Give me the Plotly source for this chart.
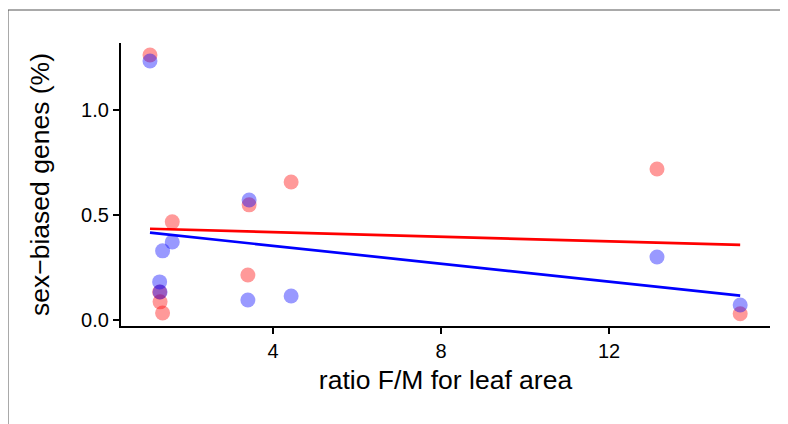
import numpy as np
import plotly.graph_objects as go

# data
ratio_fm = [1.07, 1.30, 1.31, 1.37, 1.60, 3.40, 3.43, 4.43, 13.14, 15.12]
pct_red = [1.262, 0.133, 0.086, 0.033, 0.467, 0.214, 0.548, 0.657, 0.719, 0.029]
pct_blue = [1.233, 0.181, 0.133, 0.329, 0.371, 0.095, 0.571, 0.114, 0.300, 0.071]
x_ticks = [4, 8, 12]
y_ticks = [0.0, 0.5, 1.0]

x = np.array(ratio_fm)
fig = go.Figure()
for ys, mcol in [(pct_red, "rgba(255,0,0,0.4)"), (pct_blue, "rgba(0,0,255,0.4)")]:
    fig.add_trace(go.Scatter(x=ratio_fm, y=ys, mode="markers",
                             marker=dict(size=15, color=mcol, line=dict(width=0)),
                             showlegend=False, hoverinfo="skip"))
for ys, col in [(pct_red, "#FF0000"), (pct_blue, "#0000FF")]:
    b, a = np.polyfit(x, np.array(ys), 1)
    xl = np.array([x.min(), x.max()])
    fig.add_trace(go.Scatter(x=xl, y=a + b * xl, mode="lines",
                             line=dict(color=col, width=2.7),
                             showlegend=False, hoverinfo="skip"))

font = "Liberation Sans, Arial, sans-serif"
fig.update_layout(
    width=780, height=416,
    margin=dict(l=113, r=18, t=35, b=98),
    paper_bgcolor="white", plot_bgcolor="white",
    font=dict(family=font, color="black"),
    xaxis=dict(range=[0.38, 15.83], tickvals=x_ticks, ticktext=[str(v) for v in x_ticks],
               showgrid=False, zeroline=False, showline=True, linecolor="black",
               linewidth=2.2, ticks="outside", ticklen=6, tickwidth=2.2, tickcolor="black",
               tickfont=dict(size=20, color="black"),
               title=dict(text="ratio F/M for leaf area", font=dict(size=26.5, color="black"),
                          standoff=9)),
    yaxis=dict(range=[-0.029, 1.319], tickvals=y_ticks, ticktext=["0.0", "0.5", "1.0"],
               showgrid=False, zeroline=False, showline=True, linecolor="black",
               linewidth=2.2, ticks="outside", ticklen=6, tickwidth=2.2, tickcolor="black",
               tickfont=dict(size=20, color="black"),
               title=dict(text="sex\u2212biased genes (%)", font=dict(size=26.5, color="black"),
                          standoff=24)),
    shapes=[dict(type="rect", xref="paper", yref="paper",
                 x0=-0.1741, x1=1.2, y0=-0.6, y1=1.1166,
                 line=dict(color="#555555", width=1), fillcolor="rgba(0,0,0,0)", layer="below")],
)
fig.write_html("out.html")
